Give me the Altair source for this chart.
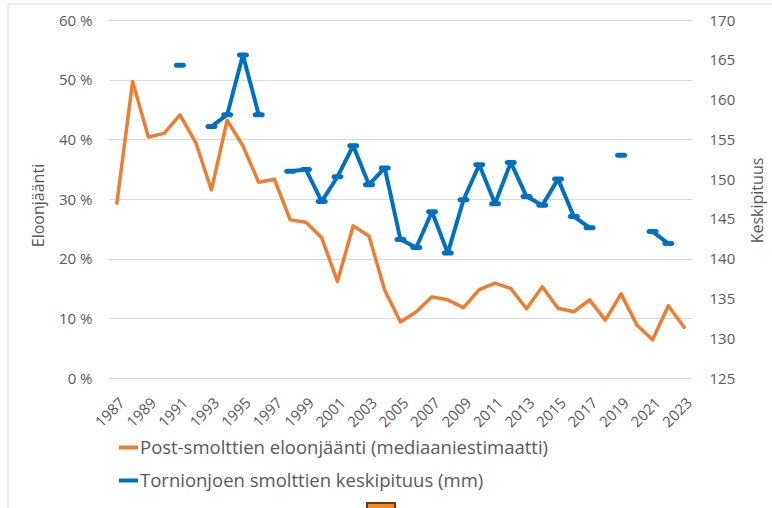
import altair as alt
import pandas as pd

# Survival of post-smolts (median estimate, %) and mean smolt length (mm), 1987-2023
years = list(range(1987, 2024))
survival_pct = [29.3, 49.7, 40.4, 41.0, 44.1, 39.5, 31.5, 43.2, 38.9, 32.8,
                33.3, 26.5, 26.1, 23.5, 16.2, 25.5, 23.8, 14.7, 9.4, 11.1,
                13.6, 13.1, 11.8, 14.8, 15.9, 15.0, 11.6, 15.3, 11.7, 11.1,
                13.1, 9.7, 14.1, 8.9, 6.4, 12.1, 8.5]
length_mm = [None, None, None, None, 164.3, None, 156.6, 158.1, 165.6, 158.1,
             None, 151.0, 151.2, 147.2, 150.3, 154.2, 149.3, 151.4, 142.4, 141.4,
             145.9, 140.7, 147.4, 151.8, 146.9, 152.1, 147.8, 146.7, 150.0, 145.3,
             143.9, None, 153.0, None, 143.4, 141.9, None]

label_years = years[::2]
pct_ticks = [0, 10, 20, 30, 40, 50, 60]
mm_ticks = [125, 130, 135, 140, 145, 150, 155, 160, 165, 170]

series_names = ["Post-smolttien eloonjäänti (mediaaniestimaatti)",
                "Tornionjoen smolttien keskipituus (mm)"]
series_colors = ["#ED7D31", "#0070C0"]

FONT = "Open Sans"
TEXT = "#595959"

df = pd.DataFrame({"year": years, "pct": survival_pct, "mm": length_mm})

x_enc = alt.X(
    "year:O",
    scale=alt.Scale(type="point", padding=0.5),
    axis=alt.Axis(values=label_years, labelAngle=315, title=None, domain=False,
                  ticks=False, grid=False, labelPadding=17, labelFontSize=15,
                  labelOverlap=False),
)

color_enc = alt.Color(
    "series:N",
    scale=alt.Scale(domain=series_names, range=series_colors),
    legend=alt.Legend(orient="none", legendX=8, legendY=416, direction="vertical",
                      title=None, symbolType="stroke", symbolStrokeWidth=4,
                      symbolSize=361, labelFontSize=18.5, labelColor=TEXT,
                      labelFont=FONT, labelLimit=0, rowPadding=12, labelOffset=0),
)

survival = alt.Chart(df).transform_calculate(series=f"'{series_names[0]}'").mark_line(
    strokeWidth=3.5, strokeJoin="round", strokeCap="round"
).encode(
    x=x_enc,
    y=alt.Y("pct:Q",
            scale=alt.Scale(domain=[0, 60], nice=False),
            axis=alt.Axis(values=pct_ticks, labelExpr="datum.value + ' %'",
                          title="Eloonjäänti", grid=True, gridColor="#D9D9D9",
                          gridWidth=1, domain=False, ticks=False, labelPadding=17,
                          labelOverlap=False,
                          titleX=-71, titleY=185, titleAngle=270,
                          titleAlign="center", titleBaseline="middle")),
    color=color_enc,
)

length_base = alt.Chart(df).transform_calculate(series=f"'{series_names[1]}'")

length_y = alt.Y("mm:Q",
                 scale=alt.Scale(domain=[125, 170], nice=False, zero=False),
                 axis=alt.Axis(orient="right", values=mm_ticks, grid=False,
                               title="Keskipituus", domain=False, ticks=False,
                               labelPadding=17, labelOverlap=False,
                               titleX=65, titleY=180,
                               titleAngle=270, titleAlign="center",
                               titleBaseline="middle"))

length_line = length_base.mark_line(
    strokeWidth=4, strokeJoin="round", strokeCap="round",
    invalid="break-paths-show-domains"
).encode(x=x_enc, y=length_y, color=color_enc)

# dash markers on every measured year
length_marks = length_base.transform_filter("isValid(datum.mm)").mark_tick(
    thickness=5, size=12, cornerRadius=2.5, color=series_colors[1], opacity=1
).encode(x=x_enc, y=length_y)

lengths = alt.layer(length_line, length_marks)

one = pd.DataFrame({"k": [0]})
frame_top = alt.Chart(one).mark_rule(color="#D9D9D9", strokeWidth=1).encode(
    x=alt.value(-101), x2=alt.value(663), y=alt.value(-16))
frame_left = alt.Chart(one).mark_rule(color="#D9D9D9", strokeWidth=1).encode(
    x=alt.value(-101), y=alt.value(-16), y2=alt.value(488))
handle = alt.Chart(one).mark_rect(fill="#F28A1E", stroke="#6B3A10", strokeWidth=2).encode(
    x=alt.value(258), x2=alt.value(286), y=alt.value(483), y2=alt.value(500))

chart = alt.layer(frame_top, frame_left, survival, lengths, handle).resolve_scale(
    y="independent"
).properties(
    width=583, height=358,
    autosize=alt.AutoSizeParams(type="none"),
    padding={"left": 109, "top": 20, "right": 80, "bottom": 130},
    background="white",
).configure_view(stroke=None).configure_axis(
    labelFont=FONT, labelColor=TEXT, labelFontSize=15,
    titleFont=FONT, titleColor=TEXT, titleFontSize=16, titleFontWeight="normal",
)

chart.save("out.html", embed_options={"renderer": "svg", "actions": False})
